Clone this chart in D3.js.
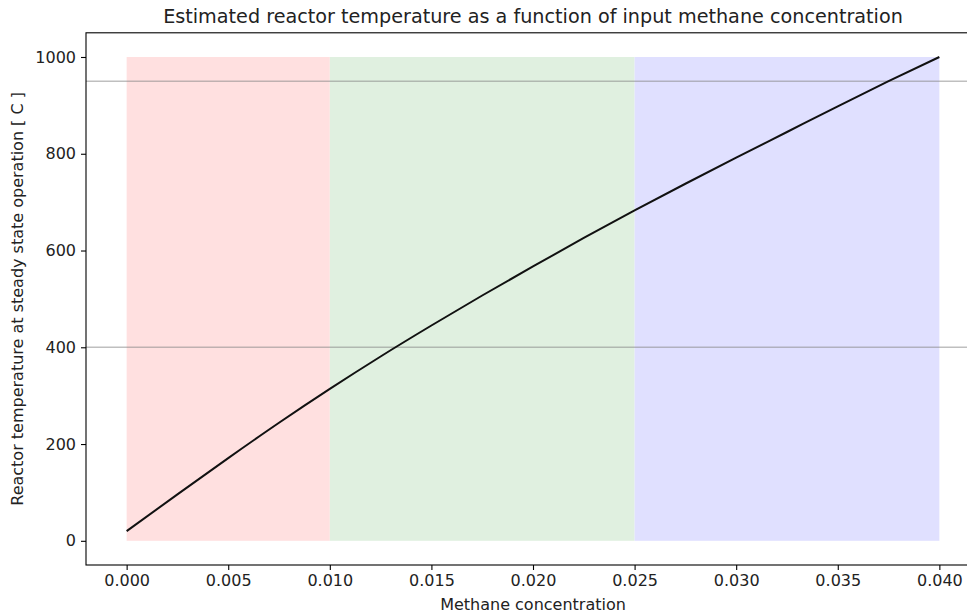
<!DOCTYPE html>
<html><head><meta charset="utf-8">
<script src="https://cdn.jsdelivr.net/npm/d3@7"></script>
<style>body{margin:0;background:#fff;} text{font-family:"DejaVu Sans",sans-serif;fill:#222;}</style>
</head><body>
<svg id="c" width="967" height="615"></svg>
<script>
const concentration = [0,0.0025,0.005,0.0075,0.01,0.0125,0.015,0.0175,0.02,0.0225,0.025,0.0275,0.03,0.0325,0.035,0.0375,0.04];
const temperature = [20,96,171,244,314,381,445,507,567,626,683,738,792,845,898,950,1000];
const regions = [
  {from:0, to:0.01, color:"#ffe0e0"},
  {from:0.01, to:0.025, color:"#e0f0e0"},
  {from:0.025, to:0.04, color:"#e0e0ff"}
];
const regionBottom = 0, regionTop = 1000;
const refLines = [950, 400];
const xTicks = [0,0.005,0.01,0.015,0.02,0.025,0.03,0.035,0.04];
const yTicks = [0,200,400,600,800,1000];
const title = "Estimated reactor temperature as a function of input methane concentration";
const xLabel = "Methane concentration";
const yLabel = "Reactor temperature at steady state operation [ C ]";

const svg = d3.select("#c");
const L = 86, R = 980, T = 32.8, B = 565;
const x = d3.scaleLinear().domain([-0.002, 0.042]).range([L, R]);
const y = d3.scaleLinear().domain([-50, 1050]).range([B, T]);

svg.append("g").selectAll("rect").data(regions).join("rect")
  .attr("x", d => x(d.from)).attr("width", d => x(d.to) - x(d.from))
  .attr("y", y(regionTop)).attr("height", y(regionBottom) - y(regionTop))
  .attr("fill", d => d.color);

svg.append("g").selectAll("line").data(refLines).join("line")
  .attr("x1", L).attr("x2", R).attr("y1", d => y(d)).attr("y2", d => y(d))
  .attr("stroke", "#808080").attr("stroke-opacity", 0.5).attr("stroke-width", 1.6);

const pts = concentration.map((c, i) => [c, temperature[i]]);
svg.append("path").datum(pts)
  .attr("d", d3.line().x(d => x(d[0])).y(d => y(d[1])).curve(d3.curveMonotoneX))
  .attr("fill", "none").attr("stroke", "#111").attr("stroke-width", 2);

// spines
svg.append("rect").attr("x", L).attr("y", T).attr("width", R - L).attr("height", B - T)
  .attr("fill", "none").attr("stroke", "#000").attr("stroke-width", 1.1);

const xa = svg.append("g").attr("transform", `translate(0,${B})`)
  .call(d3.axisBottom(x).tickValues(xTicks).tickFormat(d3.format(".3f")).tickSize(5).tickPadding(5));
const ya = svg.append("g").attr("transform", `translate(${L},0)`)
  .call(d3.axisLeft(y).tickValues(yTicks).tickFormat(d3.format("d")).tickSize(5).tickPadding(5));
[xa, ya].forEach(a => {
  a.select(".domain").remove();
  a.selectAll("line").attr("stroke", "#000").attr("stroke-width", 1.1);
  a.selectAll("text").attr("font-size", "16px").attr("font-family", "DejaVu Sans").attr("fill", "#222");
});

svg.append("text").attr("x", (L + R) / 2).attr("y", 23).attr("text-anchor", "middle")
  .attr("font-size", "19.2px").text(title);
svg.append("text").attr("x", (L + R) / 2).attr("y", 610).attr("text-anchor", "middle")
  .attr("font-size", "16px").text(xLabel);
svg.append("text").attr("transform", `translate(23,${(T + B) / 2}) rotate(-90)`)
  .attr("text-anchor", "middle").attr("font-size", "16px").text(yLabel);
</script>
</body></html>
